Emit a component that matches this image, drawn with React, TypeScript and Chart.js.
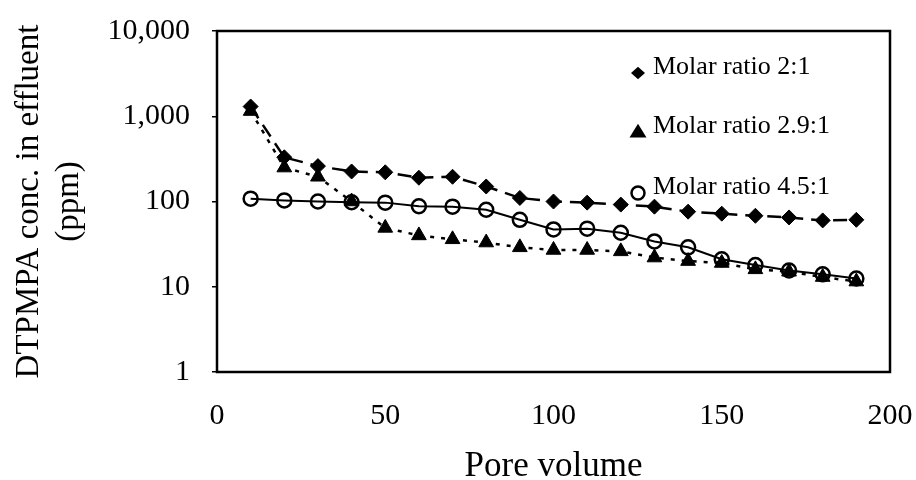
import React, { useEffect, useRef } from "react";
import { Chart, registerables } from "chart.js";

Chart.register(...registerables);

const poreVolume = [10, 20, 30, 40, 50, 60, 70, 80, 90, 100, 110, 120, 130, 140, 150, 160, 170, 180, 190];
const ratio2 = [1300, 330, 260, 225, 220, 190, 195, 150, 110, 100, 97, 92, 87, 76, 72, 68, 65, 60, 61];
const ratio29 = [1150, 250, 195, 100, 49, 40, 36, 33, 29, 27, 27, 26, 22, 20, 19, 16, 15, 13, 11.5];
const ratio45 = [108, 103, 100, 98, 97, 88, 87, 80, 61, 47, 48, 43, 34, 29, 21, 18, 15.5, 14, 12.5];
const seriesNames = ["Molar ratio 2:1", "Molar ratio 2.9:1", "Molar ratio 4.5:1"];
const yTicks = [1, 10, 100, 1000, 10000];
const xTitle = "Pore volume";
const yTitle = ["DTPMPA conc. in effluent", "(ppm)"];

const FONT = "'Liberation Serif', 'Times New Roman', serif";

function drawMarker(ctx: CanvasRenderingContext2D, style: string, x: number, y: number, r: number) {
  ctx.beginPath();
  if (style === "rectRot") {
    ctx.moveTo(x, y - r * 0.9);
    ctx.lineTo(x + r, y);
    ctx.lineTo(x, y + r * 0.9);
    ctx.lineTo(x - r, y);
    ctx.closePath();
    ctx.fillStyle = "#000";
    ctx.fill();
  } else if (style === "triangle") {
    const h = r * 1.6;
    ctx.moveTo(x, y - h * 0.6);
    ctx.lineTo(x + r, y + h * 0.4);
    ctx.lineTo(x - r, y + h * 0.4);
    ctx.closePath();
    ctx.fillStyle = "#000";
    ctx.fill();
  } else {
    ctx.arc(x, y, r, 0, Math.PI * 2);
    ctx.strokeStyle = "#000";
    ctx.lineWidth = 2.5;
    ctx.stroke();
  }
}

const frameAndLegend = {
  id: "frameAndLegend",
  afterDatasetsDraw(chart: any) {
    const { ctx, chartArea } = chart;
    ctx.save();
    ctx.strokeStyle = "#000";
    ctx.lineWidth = 2.5;
    ctx.strokeRect(chartArea.left, chartArea.top, chartArea.right - chartArea.left, chartArea.bottom - chartArea.top);
    const lx = chartArea.left + 421;
    const rows = [chartArea.top + 36, chartArea.top + 95, chartArea.top + 156];
    const radii = [7, 8.5, 6.5];
    chart.data.datasets.forEach((ds: any, i: number) => {
      const y = rows[i];
      drawMarker(ctx, ds.pointStyle, lx, y + 6, radii[i]);
      ctx.fillStyle = "#000";
      ctx.font = `26px ${FONT}`;
      ctx.textAlign = "left";
      ctx.textBaseline = "middle";
      ctx.fillText(ds.label, lx + 15, y);
    });
    ctx.restore();
  },
};

const noPad = (s: any) => {
  s.paddingTop = 0;
  s.paddingBottom = 0;
  s.paddingLeft = 0;
  s.paddingRight = 0;
};

export default function App() {
  const ref = useRef<HTMLCanvasElement>(null);
  useEffect(() => {
    if (!ref.current) return;
    const mk = (arr: number[]) => poreVolume.map((x, i) => ({ x, y: arr[i] }));
    const chart = new Chart(ref.current, {
      type: "line",
      data: {
        datasets: [
          {
            label: seriesNames[0],
            data: mk(ratio2),
            borderColor: "#000",
            borderWidth: 2.5,
            borderDash: [14, 8],
            pointStyle: "rectRot",
            pointRadius: 7.5,
            pointBackgroundColor: "#000",
            pointBorderColor: "#000",
            pointBorderWidth: 1,
            fill: false,
          },
          {
            label: seriesNames[1],
            data: mk(ratio29),
            borderColor: "#000",
            borderWidth: 2.5,
            borderDash: [4, 7],
            pointStyle: "triangle",
            pointRadius: 8.5,
            pointBackgroundColor: "#000",
            pointBorderColor: "#000",
            pointBorderWidth: 1,
            fill: false,
          },
          {
            label: seriesNames[2],
            data: mk(ratio45),
            borderColor: "#000",
            borderWidth: 2,
            pointStyle: "circle",
            pointRadius: 7,
            pointBackgroundColor: "rgba(0,0,0,0)",
            pointBorderColor: "#000",
            pointBorderWidth: 2.5,
            fill: false,
          },
        ],
      },
      options: {
        responsive: false,
        animation: false,
        layout: { padding: { top: 31, right: 26, left: 0, bottom: 0 } },
        plugins: { legend: { display: false }, tooltip: { enabled: false } },
        scales: {
          x: {
            type: "linear",
            min: 0,
            max: 200,
            grid: { display: false },
            border: { display: false },
            ticks: { stepSize: 50, color: "#000", font: { family: FONT, size: 30 }, padding: 18, maxRotation: 0 },
            title: { display: true, text: xTitle, color: "#000", font: { family: FONT, size: 35, lineHeight: 1 }, padding: { top: 0, bottom: -4 } },
            afterFit: (s: any) => { s.height = 108; noPad(s); },
          },
          y: {
            type: "logarithmic",
            min: 1,
            max: 10000,
            border: { display: false },
            grid: { drawOnChartArea: false, drawTicks: true, tickLength: 5, color: "#000", lineWidth: 1.5 },
            afterBuildTicks: (s: any) => { s.ticks = yTicks.map((v) => ({ value: v })); },
            ticks: {
              color: "#000",
              font: { family: FONT, size: 30 },
              padding: 22,
              callback: (v: any) => Number(v).toLocaleString("en-US"),
            },
            title: { display: true, text: yTitle, color: "#000", font: { family: FONT, size: 33, lineHeight: 1.2 }, padding: { top: 10, bottom: 0 } },
            afterFit: (s: any) => { s.width = 217; noPad(s); },
          },
        },
      },
      plugins: [frameAndLegend],
    } as any);
    return () => chart.destroy();
  }, []);
  return (
    <div style={{ position: "absolute", left: 0, top: 0, width: 916, height: 480, background: "#fff" }}>
      <canvas ref={ref} width={916} height={480} />
    </div>
  );
}
